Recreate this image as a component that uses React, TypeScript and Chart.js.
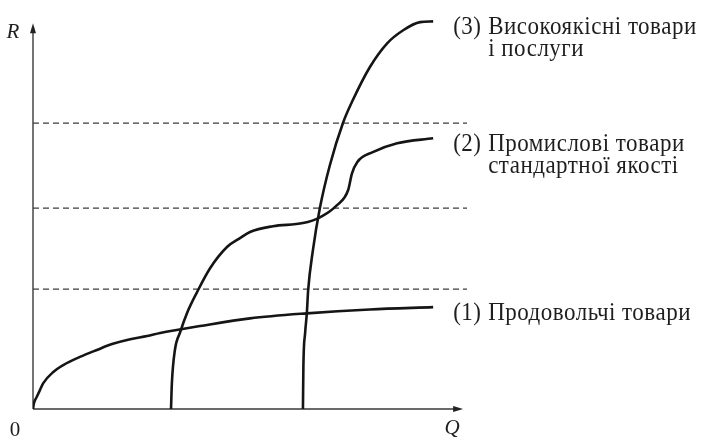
import { useEffect, useRef } from 'react';
import { Chart, registerables } from 'chart.js';

Chart.register(...registerables);

// Curve (1): food products
const foodQ = [0, 0.23, 0.85, 1.6, 2.37, 4.68, 6.98, 10.8, 14.7, 18.4, 22.4, 26.3, 29.3, 38.5, 50.0, 63.1, 77.6, 92.2];
const foodR = [0, 1.55, 3.1, 4.9, 6.7, 9.6, 11.4, 13.5, 15.3, 16.9, 18.1, 18.9, 19.7, 21.5, 23.5, 24.8, 25.8, 26.4];

// Curve (2): standard-quality industrial goods
const industryQ = [31.8, 32.0, 32.7, 33.9, 35.5, 37.8, 40.8, 44.7, 47.7, 50.0, 55.3, 62.2, 66.1, 70.0, 72.6, 73.5, 74.7, 78.3, 83.9, 92.2];
const industryR = [0, 6.7, 15.3, 19.9, 24.9, 30.3, 36.5, 42.0, 44.3, 45.9, 47.4, 48.2, 49.7, 52.8, 56.7, 61.1, 64.0, 66.6, 68.9, 70.2];

// Curve (3): high-quality goods and services
const premiumQ = [62.2, 62.3, 62.7, 63.1, 63.4, 64.5, 66.1, 68.4, 71.4, 73.7, 77.6, 81.6, 85.3, 89.2, 92.2];
const premiumR = [0, 10.9, 19.7, 24.9, 30.8, 41.2, 52.1, 63.2, 74.1, 80.1, 88.6, 94.8, 98.2, 100.3, 100.5];

// Horizontal reference levels (dashed)
const levelR = [31.1, 52.1, 74.1];
const levelQ = [0, 100];

// Curve captions: number tag, then text lines
const curveTags = ['(1)', '(2)', '(3)'];
const curveLines = [
  ['Продовольчі товари'],
  ['Промислові товари', 'стандартної якості'],
  ['Високоякісні товари', 'і послуги'],
];

const axisLabels = { y: 'R', x: 'Q', origin: '0' };
const axisEnd = { q: 99.1, r: 100 };

const toPoints = (qs: number[], rs: number[]) => qs.map((q, i) => ({ x: q, y: rs[i] }));

const INK = '#151515';
const SERIF = '"Liberation Serif", "DejaVu Serif", serif';

const axesPlugin = {
  id: 'axesAndCaptions',
  beforeDatasetsDraw(chart: any) {
    const { ctx, scales } = chart;
    const x0 = scales.x.getPixelForValue(0);
    const y0 = scales.y.getPixelForValue(0);
    const xEnd = scales.x.getPixelForValue(axisEnd.q);
    const yEnd = scales.y.getPixelForValue(axisEnd.r);
    ctx.save();
    ctx.strokeStyle = '#3a3a3a';
    ctx.fillStyle = '#222';
    ctx.lineWidth = 1.4;
    ctx.beginPath();
    ctx.moveTo(x0, y0);
    ctx.lineTo(x0, yEnd + 6);
    ctx.moveTo(x0, y0);
    ctx.lineTo(xEnd - 6, y0);
    ctx.stroke();
    // arrowheads
    ctx.beginPath();
    ctx.moveTo(x0, yEnd);
    ctx.lineTo(x0 - 3, yEnd + 10);
    ctx.lineTo(x0 + 3, yEnd + 10);
    ctx.closePath();
    ctx.fill();
    ctx.beginPath();
    ctx.moveTo(xEnd, y0);
    ctx.lineTo(xEnd - 10, y0 - 3);
    ctx.lineTo(xEnd - 10, y0 + 3);
    ctx.closePath();
    ctx.fill();
    ctx.restore();
  },
  afterDraw(chart: any) {
    const { ctx, scales } = chart;
    const x0 = scales.x.getPixelForValue(0);
    const y0 = scales.y.getPixelForValue(0);
    const xEnd = scales.x.getPixelForValue(axisEnd.q);
    const yEnd = scales.y.getPixelForValue(axisEnd.r);
    ctx.save();
    ctx.fillStyle = '#1e1e1e';
    ctx.textBaseline = 'middle';
    ctx.textAlign = 'center';
    ctx.font = `italic 21px ${SERIF}`;
    ctx.fillText(axisLabels.y, x0 - 20, yEnd + 9);
    ctx.fillText(axisLabels.x, xEnd - 11, y0 + 19);
    ctx.font = `21px ${SERIF}`;
    ctx.fillText(axisLabels.origin, x0 - 18, y0 + 21);

    // captions next to each curve's last point
    ctx.textAlign = 'left';
    ctx.textBaseline = 'alphabetic';
    ctx.font = `23px ${SERIF}`;
    (ctx as any).letterSpacing = '0.5px';
    const stretch = 1.07;
    for (let i = 0; i < 3; i++) {
      const meta = chart.getDatasetMeta(i);
      const last = meta.data[meta.data.length - 1];
      const tx = last.x + 20;
      const ty = last.y + 13;
      const put = (text: string, x: number, y: number) => {
        ctx.save();
        ctx.translate(x, y);
        ctx.scale(1, stretch);
        ctx.fillText(text, 0, 0);
        ctx.restore();
      };
      put(curveTags[i], tx, ty);
      curveLines[i].forEach((line, k) => put(line, tx + 35, ty + k * 22));
    }
    ctx.restore();
  },
};

export default function App() {
  const canvasRef = useRef<HTMLCanvasElement | null>(null);

  useEffect(() => {
    const canvas = canvasRef.current;
    if (!canvas) return;

    const curveStyle = {
      showLine: true,
      pointRadius: 0,
      borderColor: INK,
      borderWidth: 2.6,
      cubicInterpolationMode: 'monotone' as const,
      fill: false,
    };
    const levelStyle = {
      showLine: true,
      pointRadius: 0,
      borderColor: '#3c3c3c',
      borderWidth: 1.3,
      borderDash: [6, 4],
      tension: 0,
      fill: false,
    };

    const chart = new Chart(canvas, {
      type: 'scatter',
      data: {
        datasets: [
          { label: curveLines[0][0], data: toPoints(foodQ, foodR), ...curveStyle },
          { label: curveLines[1][0], data: toPoints(industryQ, industryR), ...curveStyle },
          { label: curveLines[2][0], data: toPoints(premiumQ, premiumR), ...curveStyle },
          ...levelR.map((r) => ({
            label: `R = ${r}`,
            data: toPoints(levelQ, levelQ.map(() => r)),
            ...levelStyle,
          })),
        ],
      },
      options: {
        responsive: false,
        devicePixelRatio: 1,
        animation: false,
        layout: { padding: { left: 33, right: 235, top: 4, bottom: 31 } },
        scales: {
          x: { type: 'linear', min: 0, max: 100, display: false },
          y: { type: 'linear', min: 0, max: 105, display: false },
        },
        plugins: {
          legend: { display: false },
          tooltip: { enabled: false },
        },
      },
      plugins: [axesPlugin],
    });

    return () => chart.destroy();
  }, []);

  return (
    <div style={{ position: 'absolute', left: 0, top: 0, width: 702, height: 440, background: '#ffffff' }}>
      <canvas ref={canvasRef} width={702} height={440} />
    </div>
  );
}
